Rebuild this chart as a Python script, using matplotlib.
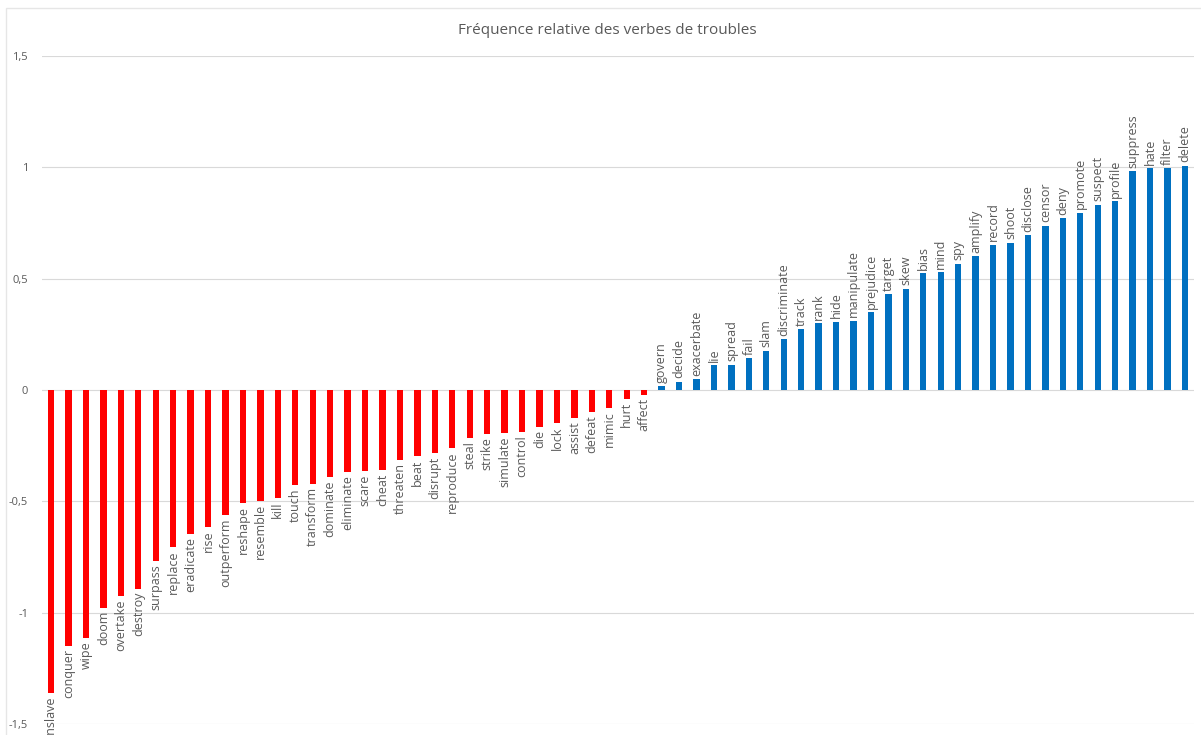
import matplotlib
matplotlib.use("Agg")
import matplotlib.pyplot as plt

neg_verbs = ['enslave', 'conquer', 'wipe', 'doom', 'overtake', 'destroy', 'surpass',
             'replace', 'eradicate', 'rise', 'outperform', 'reshape', 'resemble', 'kill',
             'touch', 'transform', 'dominate', 'eliminate', 'scare', 'cheat', 'threaten',
             'beat', 'disrupt', 'reproduce', 'steal', 'strike', 'simulate', 'control',
             'die', 'lock', 'assist', 'defeat', 'mimic', 'hurt', 'affect']
neg_vals = [-1.363, -1.148, -1.112, -0.978, -0.924, -0.892, -0.767,
            -0.704, -0.646, -0.614, -0.56, -0.507, -0.498, -0.484,
            -0.426, -0.421, -0.39, -0.368, -0.363, -0.359, -0.314,
            -0.296, -0.283, -0.26, -0.215, -0.197, -0.193, -0.188,
            -0.164, -0.149, -0.124, -0.099, -0.08, -0.04, -0.022]

pos_verbs = ['govern', 'decide', 'exacerbate', 'lie', 'spread', 'fail', 'slam',
             'discriminate', 'track', 'rank', 'hide', 'manipulate', 'prejudice',
             'target', 'skew', 'bias', 'mind', 'spy', 'amplify', 'record', 'shoot',
             'disclose', 'censor', 'deny', 'promote', 'suspect', 'profile',
             'suppress', 'hate', 'filter', 'delete']
pos_vals = [0.016, 0.037, 0.05, 0.112, 0.114, 0.142, 0.177,
            0.227, 0.272, 0.30, 0.307, 0.311, 0.35,
            0.43, 0.455, 0.526, 0.529, 0.568, 0.601, 0.653, 0.662,
            0.696, 0.738, 0.772, 0.796, 0.832, 0.848,
            0.983, 0.997, 0.997, 1.008]

yticks = [-1.5, -1, -0.5, 0, 0.5, 1, 1.5]
ytick_labels = ['-1,5', '-1', '-0,5', '0', '0,5', '1', '1,5']

plt.rcParams['font.family'] = ['Open Sans', 'DejaVu Sans']
grey = '#595959'

W, H = 1201, 735
fig = plt.figure(figsize=(W / 100, H / 100), dpi=100)
ax = fig.add_axes([42 / W, 11 / H, (1194 - 42) / W, (724 - 56) / H])

verbs = neg_verbs + pos_verbs
vals = neg_vals + pos_vals
colors = ['#FF0000'] * len(neg_verbs) + ['#0070C0'] * len(pos_verbs)
xs = list(range(len(verbs)))

ax.bar(xs, vals, width=0.36, color=colors, zorder=3)

for x, v, name in zip(xs, vals, verbs):
    if v < 0:
        ax.text(x, v - 0.015, name, rotation=90, ha='center', va='top',
                fontsize=9, color=grey, clip_on=False)
    else:
        ax.text(x, v + 0.015, name, rotation=90, ha='center', va='bottom',
                fontsize=9, color=grey)

ax.set_xlim(-0.52, len(verbs) - 1 + 0.52)
ax.set_ylim(-1.5, 1.5)
ax.set_yticks(yticks)
ax.set_yticklabels(ytick_labels)
ax.set_xticks([])
ax.tick_params(axis='y', length=0, labelsize=8, labelcolor=grey, pad=10)
ax.grid(axis='y', color='#D9D9D9', linewidth=0.8, zorder=0)
for s in ax.spines.values():
    s.set_visible(False)

fig.text(607 / W, 1 - 30 / H, 'Fréquence relative des verbes de troubles',
         ha='center', va='center', fontsize=11, color=grey)

# chart border (only left and top visible in the crop)
fig.patches.append(plt.Rectangle((6 / W, -0.01), 1.0, 1 - 8 / H + 0.01,
                                 transform=fig.transFigure, fill=False,
                                 edgecolor='#E6E6E6', linewidth=1))

fig.savefig('out.png', dpi=100)
